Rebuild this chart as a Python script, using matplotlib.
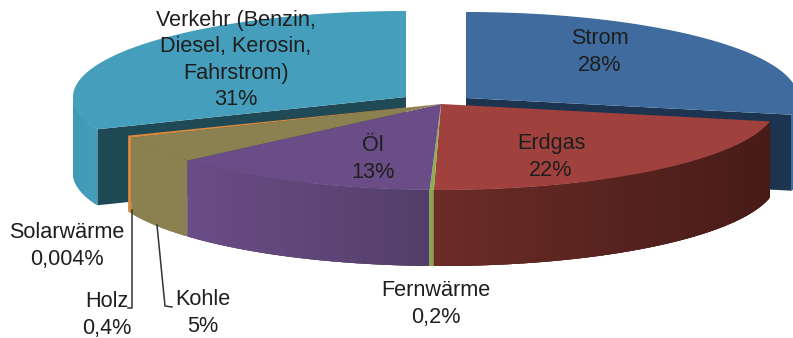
import numpy as np
import matplotlib
matplotlib.use("Agg")
import matplotlib.pyplot as plt
from matplotlib.colors import to_rgb

plt.rcParams['font.family'] = ['Liberation Sans', 'DejaVu Sans']

# Shares in percent, clockwise from the top of the pie
sectors = ["Strom", "Erdgas", "Fernwärme", "Öl", "Kohle", "Holz", "Solarwärme",
           "Verkehr (Benzin,\nDiesel, Kerosin,\nFahrstrom)"]
shares = [28, 22, 0.2, 13, 5, 0.4, 0.004, 31]
share_labels = ["28%", "22%", "0,2%", "13%", "5%", "0,4%", "0,004%", "31%"]

top_colors = ["#3f6b9e", "#a0413d", "#8fae4e", "#6a4c86", "#8b8150", "#d98a3e", "#d98a3e", "#459fbc"]
rim_left = ["#3f6b9e", "#6b2c27", "#8fae4e", "#6a4c86", "#8b8150", "#d98a3e", "#d98a3e", "#3f99b5"]
rim_right = ["#3f6b9e", "#471b17", "#7f9c46", "#533e68", "#8b8150", "#d98a3e", "#d98a3e", "#459fbc"]
cut_colors = ["#1c3450", None, None, None, None, None, None, "#1f4a55"]

# Top-face half axes and wall height, in pixels
RY, DEPTH = 86, 76
# Apex, horizontal half axis and rotation of each part of the pie
MAIN = ((441, 104), 336, 0.5)
STROM = ((466, 98), 332, 0.0)
VERKEHR = ((406, 97), 333, 0.0)


def rim(part, deg):
    apex, rx, _ = part
    t = np.radians(deg)
    return apex[0] + rx * np.sin(t), apex[1] - RY * np.cos(t)


def arc(part, a, b):
    deg = np.linspace(a, b, max(int(abs(b - a) * 2), 2))
    return rim(part, deg)


def draw_walls(ax, part, a, b, i):
    """Cut face and outer wall of one sector."""
    apex = part[0]
    if cut_colors[i]:
        edge = b if i == 0 else a
        ex, ey = rim(part, edge)
        ax.fill([apex[0], ex, ex, apex[0]], [apex[1], ey, ey + DEPTH, apex[1] + DEPTH],
                color=cut_colors[i], lw=0)

    # only the part of the wall facing the viewer, shaded in overlapping strips
    lo, hi = max(a, 90), min(b, 270)
    if hi > lo:
        c0, c1 = np.array(to_rgb(rim_left[i])), np.array(to_rgb(rim_right[i]))
        x_min, x_max = rim(part, hi)[0], rim(part, lo)[0]
        for s in np.arange(lo, hi, 0.5):
            e = min(s + 1.5, hi)
            xs, ys = arc(part, s, e)
            f = (xs.mean() - x_min) / max(x_max - x_min, 1)
            ax.fill(np.r_[xs, xs[::-1]], np.r_[ys, ys[::-1] + DEPTH],
                    color=c0 + (c1 - c0) * f, lw=0)


def draw_top(ax, part, a, b, i):
    xs, ys = arc(part, a, b)
    ax.fill(np.r_[part[0][0], xs], np.r_[part[0][1], ys], color=top_colors[i], lw=0)


fig = plt.figure(figsize=(7.93, 3.38), dpi=100)
ax = fig.add_axes([0, 0, 1, 1])
ax.set_xlim(0, 793)
ax.set_ylim(338, 0)
ax.axis('off')

# Sector angles
spans = np.array(shares) / sum(shares) * 360
starts = np.r_[0, np.cumsum(spans)[:-1]]
ends = starts + spans

# The two pulled-out sectors sit behind the rest
for part, i in [(STROM, 0), (VERKEHR, 7)]:
    draw_walls(ax, part, starts[i] + part[2], ends[i] + part[2], i)
    draw_top(ax, part, starts[i] + part[2], ends[i] + part[2], i)
for i in range(6, 0, -1):
    draw_walls(ax, MAIN, starts[i] + MAIN[2], ends[i] + MAIN[2], i)
for i in range(1, 7):
    draw_top(ax, MAIN, starts[i] + MAIN[2], ends[i] + MAIN[2], i)

# Leader lines for the small sectors
ax.plot([131.5, 131.5, 128], [210, 308, 308], color="#333333", lw=1.1)
ax.plot([157, 165, 172], [225, 306, 307], color="#333333", lw=1.1)

# Labels: centre position of each block
label_pos = [(600, 52), (551, 157), (436, 304), (373, 159), (203, 313), (107, 315), (67, 246), (236, 60)]
for name, share, (x, y) in zip(sectors, share_labels, label_pos):
    ax.text(x, y, f"{name}\n{share}", ha='center', va='center', fontsize=15.6,
            color="#1e1e1e", linespacing=1.33)

fig.savefig("out.png", dpi=100)
